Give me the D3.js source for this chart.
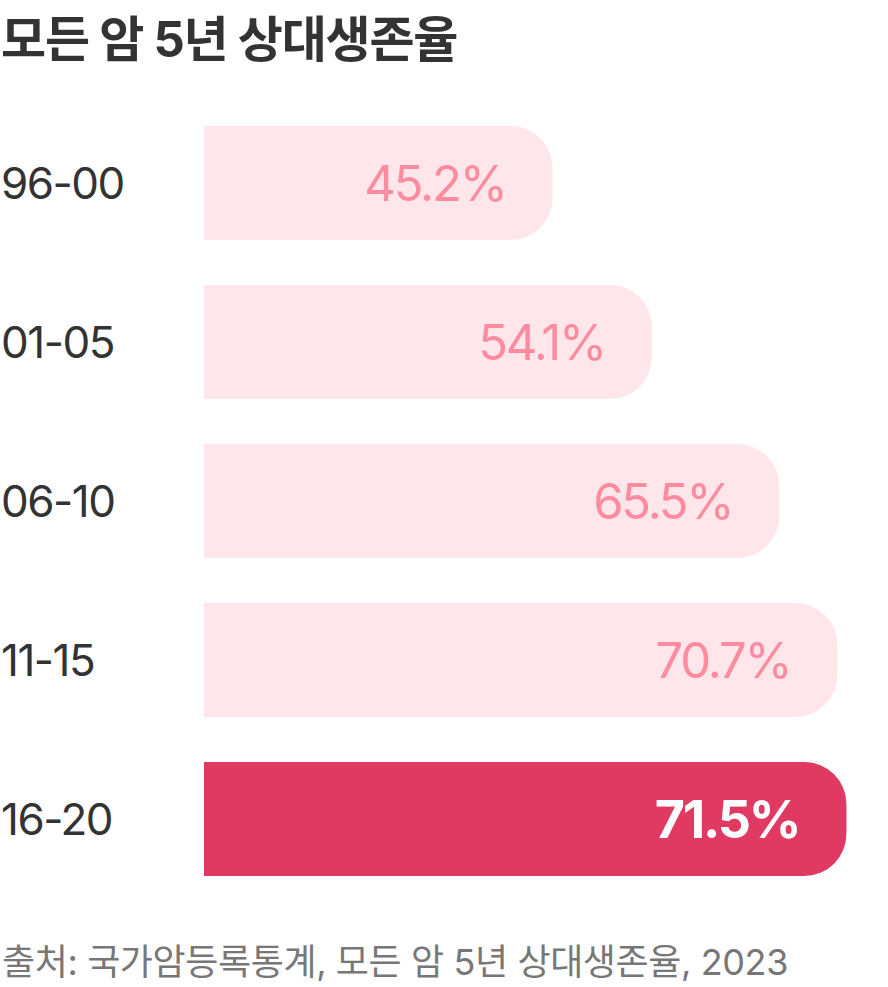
<!DOCTYPE html>
<html><head><meta charset="utf-8">
<script src="https://cdn.jsdelivr.net/npm/d3@7"></script>
<style>
html,body{margin:0;padding:0;background:#fff;}
svg{display:block;font-family:"Inter","Noto Sans CJK KR",sans-serif;}
</style></head>
<body>
<svg id="c" width="888" height="987"></svg>
<script>
const title = "모든 암 5년 상대생존율";
const source = "출처: 국가암등록통계, 모든 암 5년 상대생존율, 2023";
const categories = ["96-00", "01-05", "06-10", "11-15", "16-20"];
const values = [45.2, 54.1, 65.5, 70.7, 71.5];
const highlight = [false, false, false, false, true];

const svg = d3.select("#c");
const x0 = 204;
const x = d3.scaleLinear().domain([14, 72]).range([0, 648]);
const y = d3.scaleBand().domain(categories).range([126, 876]).paddingInner(0.283).paddingOuter(0);

svg.append("text").attr("x", 1).attr("y", 57)
  .attr("font-size", 49).attr("font-weight", 700).attr("fill", "#333")
  .attr("letter-spacing", "-1.2px").text(title);

const data = categories.map((c, i) => ({c, v: values[i], h: highlight[i]}));

function barPath(x1, yt, w, h, r) {
  const p = d3.path();
  p.moveTo(x1, yt);
  p.lineTo(x1 + w - r, yt);
  p.arcTo(x1 + w, yt, x1 + w, yt + r, r);
  p.lineTo(x1 + w, yt + h - r);
  p.arcTo(x1 + w, yt + h, x1 + w - r, yt + h, r);
  p.lineTo(x1, yt + h);
  p.closePath();
  return p.toString();
}

const g = svg.selectAll("g.bar").data(data).join("g").attr("class", "bar");
g.append("path")
  .attr("d", d => barPath(x0, y(d.c), x(d.v), y.bandwidth(), 42))
  .attr("fill", d => d.h ? "#E03A63" : "#FFE6EA");
g.append("text")
  .attr("x", d => x0 + x(d.v) - 47)
  .attr("y", d => y(d.c) + y.bandwidth() / 2)
  .attr("dy", "0.36em")
  .attr("text-anchor", "end")
  .attr("font-size", d => d.h ? 52 : 49)
  .attr("font-weight", d => d.h ? 700 : 400)
  .attr("letter-spacing", "-2.2px")
  .attr("fill", d => d.h ? "#fff" : "#FF8BA0")
  .text(d => d.v.toFixed(1) + "%");
g.append("text")
  .attr("x", 1)
  .attr("y", d => y(d.c) + y.bandwidth() / 2)
  .attr("dy", "0.36em")
  .attr("font-size", 44)
  .attr("letter-spacing", "-1.5px")
  .attr("fill", "#333")
  .text(d => d.c);

svg.append("text").attr("x", 2).attr("y", 975)
  .attr("font-size", 36).attr("fill", "#777")
  .attr("letter-spacing", "-0.4px").text(source);
</script>
</body></html>
